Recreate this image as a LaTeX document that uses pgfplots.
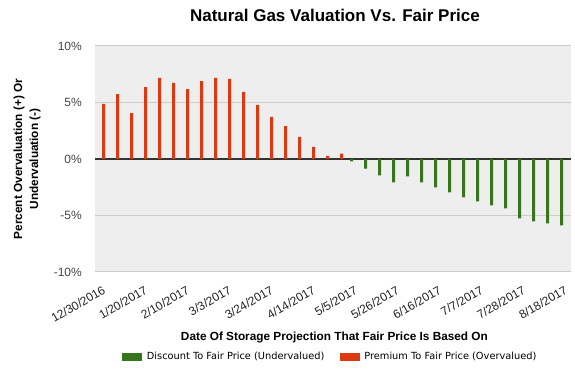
\documentclass[border=0pt]{standalone}
\usepackage{fontspec}
\setmainfont{Liberation Sans}
\newfontfamily\legendfont{DejaVu Sans}
\usepackage{pgfplots}
\pgfplotsset{compat=1.18}
\definecolor{redbar}{HTML}{DC3912}
\definecolor{greenbar}{HTML}{38761D}
\definecolor{bgg}{HTML}{EEEEEE}
\definecolor{gridg}{HTML}{CCCCCC}
\definecolor{zerol}{HTML}{333333}
\definecolor{tickg}{HTML}{444444}
\definecolor{datec}{HTML}{222222}
\begin{document}
\begin{tikzpicture}
\useasboundingbox (0pt,0pt) rectangle (575pt,371pt);
\begin{axis}[
  at={(95pt,99pt)}, anchor=south west,
  scale only axis, width=476pt, height=226pt,
  xmin=-0.5, xmax=33.5, ymin=-10, ymax=10,
  axis background/.style={fill=bgg},
  axis line style={draw=none},
  major tick length=0pt,
  ytick={-10,-5,0,5,10},
  yticklabels={-10\%,-5\%,0\%,5\%,10\%},
  ymajorgrids, grid style={gridg, line width=1pt},
  extra y ticks={0}, extra y tick labels={},
  extra y tick style={grid style={zerol, line width=1.3pt}},
  xtick={0,3,...,33},
  xticklabels={12/30/2016,1/20/2017,2/10/2017,3/3/2017,3/24/2017,4/14/2017,5/5/2017,5/26/2017,6/16/2017,7/7/2017,7/28/2017,8/18/2017},
  xticklabel style={rotate=30, anchor=north east, inner sep=0pt, font=\fontsize{12}{14}\selectfont, text=datec},
  xticklabel shift=13pt,
  yticklabel style={inner sep=0pt, font=\fontsize{12}{14}\selectfont, text=tickg},
  yticklabel shift=13pt,
  title={Natural Gas Valuation Vs. Fair Price},
  title style={at={(axis description cs:0.504,1.0827)}, anchor=base, font=\bfseries\fontsize{17}{20}\selectfont},
  xlabel={Date Of Storage Projection That Fair Price Is Based On},
  xlabel style={at={(axis description cs:0.503,-0.3031)}, anchor=base, font=\bfseries\fontsize{11.8}{14}\selectfont},
  ylabel={Percent Overvaluation (+) Or\\Undervaluation (-)},
  ylabel style={at={(axis description cs:-0.1429,0.5)}, anchor=center, align=center, font=\bfseries\fontsize{11.8}{16}\selectfont},
  legend columns=2,
  legend style={at={(axis description cs:0.0567,-0.3748)}, anchor=west, draw=none, fill=none, inner sep=0pt,
    font=\legendfont\fontsize{9.8}{12}\selectfont, nodes={inner sep=0pt},
    /tikz/every odd column/.append style={column sep=4.7pt},
    /tikz/every even column/.append style={column sep=15.3pt}},
]
\addplot[ybar, bar width=3pt, bar shift=-2.5pt, fill=greenbar, draw=none,
  legend image code/.code={\fill[greenbar] (0pt,-4pt) rectangle (20pt,4pt);}]
  coordinates {(18,-0.2) (19,-0.85) (20,-1.46) (21,-2.07) (22,-1.54) (23,-2.07) (24,-2.51) (25,-2.95)
  (26,-3.39) (27,-3.75) (28,-4.1) (29,-4.37) (30,-5.25) (31,-5.52) (32,-5.69) (33,-5.87)};
\addlegendentry{Discount To Fair Price (Undervalued)}
\addplot[ybar, bar width=3pt, bar shift=1.5pt, fill=redbar, draw=none,
  legend image code/.code={\fill[redbar] (0pt,-4pt) rectangle (20pt,4pt);}]
  coordinates {(0,4.87) (1,5.75) (2,4.07) (3,6.37) (4,7.17) (5,6.73) (6,6.19) (7,6.9) (8,7.17)
  (9,7.08) (10,5.93) (11,4.78) (12,3.72) (13,2.92) (14,1.95) (15,1.08) (16,0.28) (17,0.47)};
\addlegendentry{Premium To Fair Price (Overvalued)}
\end{axis}
\end{tikzpicture}
\end{document}
